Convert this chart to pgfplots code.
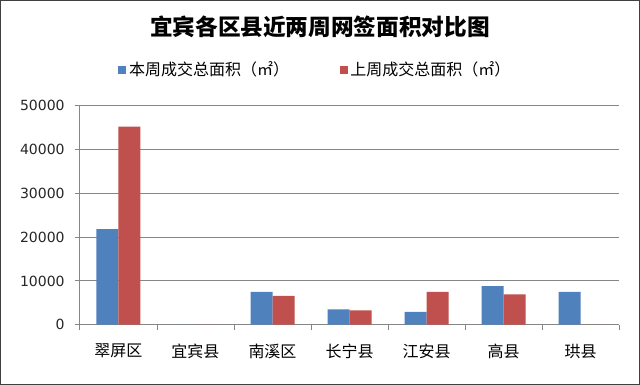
\documentclass[border=0pt]{standalone}
\usepackage{fontspec}
\setmainfont{DejaVu Sans}
\newfontfamily\cjk{Noto Sans CJK SC}
\usepackage{pgfplots}
\pgfplotsset{compat=1.18}
\definecolor{sblue}{RGB}{79,129,189}
\definecolor{sred}{RGB}{192,80,77}
\definecolor{gridc}{RGB}{134,134,134}
\begin{document}
\begin{tikzpicture}
\path[use as bounding box] (0pt,0pt) rectangle (480pt,288.75pt);
\fill[white] (0pt,0pt) rectangle (480pt,288.75pt);
\draw[line width=1pt, black!75] (0.5pt,0.5pt) rectangle (479.5pt,288.25pt);
\node[font=\cjk\bfseries\fontsize{17}{20}\selectfont] at (240pt,268.5pt) {宜宾各区县近两周网签面积对比图};
\begin{axis}[
  at={(60pt,45.2pt)}, anchor=south west, scale only axis,
  width=404.25pt, height=164.3pt,
  ybar=0pt, bar width=16.5pt,
  xmin=-0.5, xmax=6.5, ymin=0, ymax=50000,
  ytick={0,10000,...,50000}, scaled y ticks=false,
  /pgf/number format/1000 sep={},
  /pgf/number format/assume math mode=true,
  yticklabel style={font=\fontsize{10.5}{12}\selectfont, xshift=-4pt, text=black!85},
  ymajorgrids, grid style={gridc, line width=0.75pt},
  axis lines*=left, axis line style={gridc, line width=0.75pt},
  xtick={0,...,6},
  xticklabels={翠屏区,宜宾县,南溪区,长宁县,江安县,高县,珙县},
  xticklabel style={font=\cjk\fontsize{12}{14}\selectfont, yshift=-7pt},
  major x tick style={draw=none},
  minor xtick={-0.5,0.5,...,6.5},
  tick align=outside, major tick length=4pt, minor tick length=4pt,
  tick style={gridc, line width=0.75pt},
  legend columns=2,
  legend style={at={(0.4375,1.163)}, anchor=center, draw=none, fill=none,
    font=\cjk\fontsize{12}{14}\selectfont,
    /tikz/every even column/.append style={column sep=36pt}},
  legend image code/.code={\fill[#1] (0pt,-3pt) rectangle (6pt,3pt);},
]
\addplot[fill=sblue, draw=none] coordinates {(0,21800) (1,0) (2,7500) (3,3500) (4,2950) (5,8800) (6,7500)};
\addplot[fill=sred, draw=none] coordinates {(0,45200) (1,0) (2,6600) (3,3300) (4,7500) (5,6900) (6,0)};
\legend{本周成交总面积（㎡）,上周成交总面积（㎡）}
\end{axis}
\end{tikzpicture}
\end{document}
